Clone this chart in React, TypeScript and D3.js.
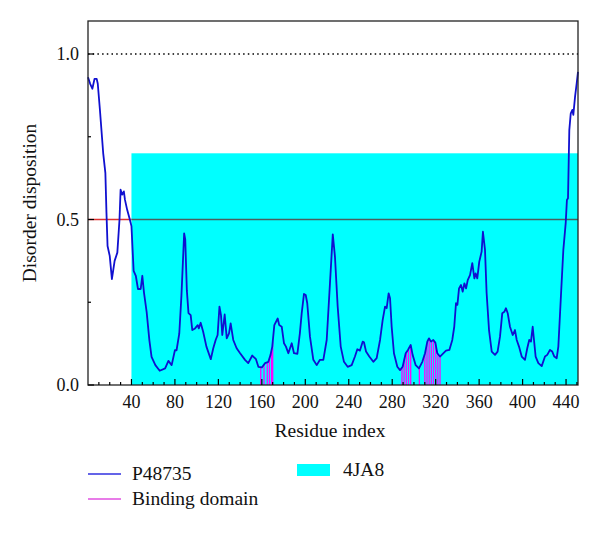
import React from "react";
import * as d3 from "d3";

const residues = [0,2,4,6,8,9,11,14,16,17,18,20,22,24.5,27,29,30,31.5,33,34,36,38.5,40,42,44,46,48.5,50,51.5,54,56.5,58.5,62,66,71,74,77,80,81.5,84,86,88.5,89.5,91,92.5,94.5,96,98.5,101,102,103.7,106,109,113,115.3,117.5,119.3,121,122.4,123.6,125.8,127.7,129.8,131.3,133.7,136.8,140,144.5,147.5,151.2,154.6,156.8,160,163,166,168,169.6,171.5,174.6,176,178.3,180.4,182.2,184.4,187.5,189.6,192.7,195,196.7,198.8,200.4,201.8,204.3,207.4,210.5,213.5,216.6,219.7,222.7,225.3,227.3,229.8,232.6,235.6,239,242.7,245.7,247.9,250.3,252.8,254,255.9,258.9,262.6,265.7,268.8,271.2,273.4,274.9,276.7,278,279.5,281.6,284.7,287.2,289.6,292.4,294.5,297,298.8,301.6,304.6,307.7,310.2,312.3,313.8,315.7,317.8,319.7,321.5,324,326.5,329.5,332.6,335.3,337.1,338.7,340,341.5,343.3,344.9,346.4,348,349.5,351.6,353.7,355.6,356.8,358.3,360.1,362.3,363.5,365.4,366.9,369.1,371.6,374.6,377,379.2,381.3,383.2,384.7,386.3,388.4,390.9,393,394.6,396.7,399.2,402.2,404.3,406.1,407.7,409.3,410.5,412,414.5,417.6,420.6,422.7,425.2,427.3,429.2,431.4,432.9,435.1,437.5,439.7,440.8,441.8,443,444.3,445.8,446.7,448.3,449.8,451];
const disorder = [0.93,0.91,0.895,0.925,0.925,0.91,0.83,0.70,0.64,0.52,0.42,0.39,0.32,0.375,0.40,0.50,0.59,0.575,0.585,0.56,0.53,0.50,0.48,0.345,0.33,0.29,0.29,0.33,0.28,0.22,0.135,0.085,0.06,0.043,0.05,0.073,0.06,0.105,0.105,0.155,0.27,0.458,0.44,0.285,0.217,0.211,0.166,0.171,0.181,0.171,0.188,0.161,0.116,0.078,0.111,0.136,0.151,0.237,0.211,0.151,0.213,0.141,0.156,0.186,0.136,0.111,0.096,0.076,0.066,0.089,0.078,0.055,0.053,0.066,0.07,0.091,0.116,0.181,0.201,0.181,0.176,0.126,0.116,0.096,0.126,0.096,0.094,0.156,0.217,0.275,0.272,0.247,0.146,0.076,0.06,0.076,0.076,0.136,0.307,0.455,0.388,0.237,0.116,0.07,0.055,0.06,0.086,0.108,0.104,0.131,0.129,0.101,0.086,0.07,0.081,0.136,0.196,0.237,0.232,0.277,0.262,0.176,0.096,0.055,0.045,0.055,0.096,0.106,0.121,0.091,0.06,0.05,0.07,0.096,0.131,0.141,0.131,0.136,0.128,0.096,0.086,0.094,0.104,0.106,0.136,0.176,0.247,0.242,0.292,0.302,0.282,0.307,0.292,0.317,0.332,0.368,0.322,0.337,0.322,0.372,0.403,0.463,0.408,0.277,0.166,0.101,0.091,0.101,0.146,0.217,0.221,0.232,0.217,0.176,0.151,0.166,0.136,0.116,0.086,0.076,0.111,0.136,0.131,0.176,0.136,0.086,0.066,0.057,0.086,0.091,0.106,0.101,0.086,0.081,0.116,0.257,0.408,0.49,0.559,0.564,0.77,0.82,0.831,0.816,0.871,0.911,0.946];

const bindingResidues = [159,162,165,167,169,170,289,291,293,295,297,305,310,312,314,316,318,320,322,324];

const structStart = 40;
const structTop = 0.7;
const threshold = 0.5;
const xMajorTicks = [40,80,120,160,200,240,280,320,360,400,440];
const yMajorTicks = [0, 0.5, 1.0];
const yMinorTicks = [0.25, 0.75];
const legendItems = ["P48735", "Binding domain"];
const structLabel = "4JA8";

const FONT = "Liberation Serif, DejaVu Serif, serif";

export default function App() {
  const W = 600, H = 533;
  const left = 88, right = 578, top = 21, bottom = 385;
  const x = d3.scaleLinear().domain([0, 451]).range([left, right]);
  const y = d3.scaleLinear().domain([0, 1]).range([bottom, 54]);

  const pts = residues.map((r, i) => [r, disorder[i]] as [number, number]);
  const line = d3.line<[number, number]>().x(d => x(d[0])).y(d => y(d[1]));

  const interp = (r: number) => {
    const i = d3.bisectRight(residues, r);
    if (i <= 0) return disorder[0];
    if (i >= residues.length) return disorder[disorder.length - 1];
    const r0 = residues[i - 1], r1 = residues[i];
    const t = (r - r0) / (r1 - r0);
    return disorder[i - 1] + t * (disorder[i] - disorder[i - 1]);
  };

  const xMinor = d3.range(10, 451, 10).filter(v => v % 40 !== 0);
  const textStyle = { fontFamily: FONT } as React.CSSProperties;

  return (
    <svg width={W} height={H} style={{ display: "block", position: "absolute", left: 0, top: 0 }}>
      <rect x={0} y={0} width={W} height={H} fill="#fff" />
      <rect x={x(structStart)} y={y(structTop)} width={right - x(structStart)} height={bottom - y(structTop)} fill="#00ffff" />
      <line x1={left} x2={x(structStart)} y1={y(threshold)} y2={y(threshold)} stroke="#e03030" strokeWidth={1.3} />
      <line x1={x(structStart)} x2={right} y1={y(threshold)} y2={y(threshold)} stroke="#4a6060" strokeWidth={1.3} />
      <line x1={left} x2={right} y1={y(1)} y2={y(1)} stroke="#000" strokeWidth={1.3} strokeDasharray="1.5,3.2" />
      {bindingResidues.map(r => (
        <line key={r} x1={x(r)} x2={x(r)} y1={y(0)} y2={y(interp(r))} stroke="#ff00ff" strokeWidth={1.3} />
      ))}
      <path d={line(pts) || ""} fill="none" stroke="#1010d0" strokeWidth={1.8} strokeLinejoin="round" />
      <rect x={left} y={top} width={right - left} height={bottom - top} fill="none" stroke="#222" strokeWidth={1.3} />
      {xMinor.map(v => (
        <line key={"xm" + v} x1={x(v)} x2={x(v)} y1={bottom} y2={bottom - 3} stroke="#000" strokeWidth={1.2} />
      ))}
      {xMajorTicks.map(v => (
        <g key={"xM" + v}>
          <line x1={x(v)} x2={x(v)} y1={bottom} y2={bottom - 6} stroke="#000" strokeWidth={1.2} />
          <text x={x(v)} y={408} textAnchor="middle" style={textStyle} fontSize={18} fill="#111">{v}</text>
        </g>
      ))}
      {yMinorTicks.map(v => (
        <line key={"ym" + v} x1={left} x2={left + 3} y1={y(v)} y2={y(v)} stroke="#000" strokeWidth={1.2} />
      ))}
      {yMajorTicks.map(v => (
        <g key={"yM" + v}>
          <line x1={left} x2={left + 6} y1={y(v)} y2={y(v)} stroke="#000" strokeWidth={1.2} />
          <text x={79} y={y(v)} dy="0.35em" textAnchor="end" style={textStyle} fontSize={18} fill="#111">{d3.format(".1f")(v)}</text>
        </g>
      ))}
      <text x={330} y={437} textAnchor="middle" style={textStyle} fontSize={19.5} fill="#111">Residue index</text>
      <text transform={`translate(36,${(top + bottom) / 2}) rotate(-90)`} textAnchor="middle" style={textStyle} fontSize={19.5} fill="#111">Disorder disposition</text>
      <line x1={88} x2={121} y1={474} y2={474} stroke="#3030e0" strokeWidth={1.5} />
      <text x={132} y={480} style={textStyle} fontSize={19.5} fill="#111">{legendItems[0]}</text>
      <line x1={88} x2={121} y1={499} y2={499} stroke="#e050e0" strokeWidth={1.5} />
      <text x={132} y={505} style={textStyle} fontSize={19.5} fill="#111">{legendItems[1]}</text>
      <rect x={297} y={464} width={33} height={12} fill="#00ffff" />
      <text x={343} y={476} style={textStyle} fontSize={19.5} fill="#111">{structLabel}</text>
    </svg>
  );
}
